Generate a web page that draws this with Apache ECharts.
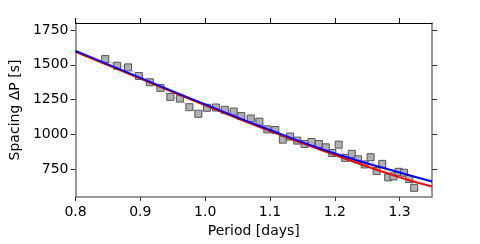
<!DOCTYPE html>
<html><head><meta charset="utf-8">
<script src="https://cdn.jsdelivr.net/npm/echarts@6/dist/echarts.min.js"></script>
<style>html,body{margin:0;padding:0;background:#fff}#c{width:480px;height:244px}</style>
</head><body><div id="c"></div>
<script>
var periods = [0.8458,0.8642,0.8810,0.8978,0.9146,0.9310,0.9463,0.9610,0.9757,0.9895,1.0028,1.0165,1.0303,1.0440,1.0556,1.0704,1.0837,1.0959,1.1082,1.1198,1.1311,1.1422,1.1534,1.1641,1.1754,1.1861,1.1962,1.2060,1.2160,1.2263,1.2359,1.2461,1.2553,1.2645,1.2732,1.2824,1.2905,1.2985,1.3068,1.3149,1.3225];
var spacings = [1541,1493,1481,1419,1374,1334,1269,1257,1195,1148,1191,1193,1176,1164,1131,1114,1091,1036,1031,962,984,955,931,945,931,907,866,926,831,860,821,784,836,736,788,691,698,731,724,679,616];
var fitX = [0.8,0.9,1.0,1.1,1.2,1.3,1.35];
var blueFit = [1600,1406,1215,1031,862,726,661];
var redFit = [1593,1400,1209,1024,852,691,626];
var yTicks = [750,1000,1250,1500,1750];
var xTicks = [0.8,0.9,1.0,1.1,1.2,1.3];

function pairs(xs, ys){ return xs.map(function(x,i){ return [x, ys[i]]; }); }
var font = 'DejaVu Sans';
var chart = echarts.init(document.getElementById('c'), null, {renderer:'canvas'});
chart.setOption({
  animation:false,
  grid:{left:72, right:48, top:23, bottom:47},
  xAxis:[{
    type:'value', min:0.8, max:1.35, position:'bottom',
    name:'Period [days]', nameLocation:'middle', nameGap:25,
    nameTextStyle:{fontFamily:font, fontSize:14, color:'#000'},
    axisLine:{lineStyle:{color:'#777', width:1.5}},
    axisTick:{inside:false, length:4, customValues:xTicks, lineStyle:{color:'#333'}},
    axisLabel:{fontFamily:font, fontSize:14, color:'#000', margin:8, customValues:xTicks, formatter:function(v){return Number(v).toFixed(1);}},
    splitLine:{show:false}
  },{
    type:'value', min:0.8, max:1.35, position:'top',
    axisLine:{lineStyle:{color:'#000', width:1}},
    axisTick:{inside:false, length:5, customValues:xTicks, lineStyle:{color:'#000'}},
    axisLabel:{show:false, customValues:xTicks}, splitLine:{show:false}
  }],
  yAxis:[{
    type:'value', min:550, max:1800, position:'left',
    name:'Spacing \u0394P [s]', nameLocation:'middle', nameGap:46,
    nameTextStyle:{fontFamily:font, fontSize:14, color:'#000'},
    axisLine:{lineStyle:{color:'#777', width:1.5}},
    axisTick:{inside:false, length:5, customValues:yTicks, lineStyle:{color:'#333'}},
    axisLabel:{fontFamily:font, fontSize:14, color:'#000', margin:7, customValues:yTicks, formatter:function(v){return String(v);}},
    splitLine:{show:false}
  },{
    type:'value', min:550, max:1800, position:'right',
    axisLine:{lineStyle:{color:'#777', width:1.5}},
    axisTick:{inside:false, length:5, customValues:yTicks, lineStyle:{color:'#333'}},
    axisLabel:{show:false, customValues:yTicks}, splitLine:{show:false}
  }],
  series:[{
    type:'line', data:pairs(periods, spacings), xAxisIndex:0, yAxisIndex:0,
    symbol:'rect', symbolSize:7, showSymbol:true,
    lineStyle:{color:'#cfcfcf', width:1.5},
    itemStyle:{color:'#b0b0b0', borderColor:'#555', borderWidth:1},
    z:2
  },{
    type:'line', data:pairs(fitX, redFit), smooth:true, symbol:'none',
    lineStyle:{color:'#ff0000', width:2}, z:3
  },{
    type:'line', data:pairs(fitX, blueFit), smooth:true, symbol:'none',
    lineStyle:{color:'#0000ff', width:2}, z:4
  }]
});
</script></body></html>
